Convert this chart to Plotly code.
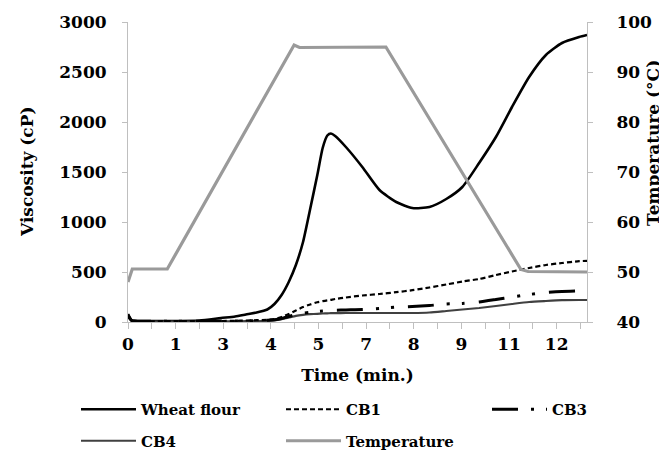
import plotly.graph_objects as go

# ---- data ----
time_min = [0, 0.1, 0.3, 1.0, 2.0, 2.6, 3.0, 3.3, 3.6, 3.9, 4.1, 4.3, 4.5, 4.7, 4.9, 5.1,
            5.3, 5.45, 5.58, 5.68, 5.8, 6.1, 6.56, 7.04, 7.51, 7.96, 8.44, 8.91, 9.36, 9.83,
            10.3, 10.75, 11.23, 11.7, 12.15, 12.63, 12.85]
wheat_flour = [80, 20, 10, 10, 15, 40, 55, 75, 95, 125, 180, 270, 400, 570, 800, 1130,
               1470, 1740, 1865, 1885, 1860, 1750, 1550, 1320, 1200, 1140, 1150, 1230, 1350, 1590,
               1850, 2150, 2450, 2670, 2790, 2850, 2870]
cb1 = [60, 15, 8, 8, 8, 10, 12, 15, 18, 22, 30, 50, 80, 115, 150, 175,
       198, 208, 216, 222, 230, 245, 265, 280, 298, 318, 345, 375, 405, 430,
       470, 505, 540, 570, 590, 608, 612]
cb3 = [70, 15, 8, 8, 8, 10, 10, 12, 14, 17, 22, 35, 55, 75, 88, 97,
       105, 110, 113, 115, 118, 121, 125, 135, 148, 155, 165, 180, 185, 200,
       225, 250, 275, 295, 305, 310, 312]
cb4 = [50, 10, 5, 5, 5, 6, 7, 8, 9, 11, 16, 28, 45, 62, 72, 78,
       82, 85, 87, 88, 89, 90, 90, 90, 90, 90, 95, 110, 125, 140,
       160, 180, 200, 210, 218, 220, 220]

temp_time = [0, 0.12, 1.1, 4.65, 4.8, 7.22, 11.0, 11.2, 12.85]
temperature = [48, 50.6, 50.6, 95.4, 94.9, 95.0, 50.5, 50.1, 50.0]

tick_labels = ["0", "1", "3", "4", "5", "7", "8", "9", "11", "12"]
label_step = 4 / 3      # minutes between labelled ticks
minor_step = 2 / 3      # minutes between tick marks

FONT = "DejaVu Serif"
AX = "#bfbfbf"

# figure is drawn 8px in from the page corner (body margin)
W, H = 659, 455
ML, MR, MT, MB = 120, 80, 14, 141
PW, PH = W - ML - MR, H - MT - MB
PB = H - MB  # plot bottom in figure px


def px_x(x):
    return (x - ML) / PW


def px_y(y):
    return (PB - y) / PH


fig = go.Figure()
fig.add_trace(go.Scatter(x=time_min, y=wheat_flour, name="Wheat flour", mode="lines",
                         line=dict(color="#000000", width=2.6, shape="spline", smoothing=0.6),
                         legend="legend", legendgroup="a"))
fig.add_trace(go.Scatter(x=time_min, y=cb4, name="CB4", mode="lines",
                         line=dict(color="#404040", width=2.2, shape="spline", smoothing=0.6),
                         legend="legend", legendgroup="b"))
fig.add_trace(go.Scatter(x=time_min, y=cb1, name="CB1", mode="lines",
                         line=dict(color="#000000", width=2.2, dash="5px,3px", shape="spline", smoothing=0.6),
                         legend="legend2", legendgroup="c"))
fig.add_trace(go.Scatter(x=temp_time, y=temperature, name="Temperature", mode="lines",
                         line=dict(color="#9a9a9a", width=3.2),
                         yaxis="y2", legend="legend2", legendgroup="d"))
fig.add_trace(go.Scatter(x=time_min, y=cb3, name="CB3", mode="lines",
                         line=dict(color="#000000", width=3, dash="26px,13px,3px,12px,3px,14px",
                                   shape="spline", smoothing=0.6),
                         legend="legend3", legendgroup="e"))

tickvals = [i * label_step for i in range(len(tick_labels))]

leg_top = 1 - 385 / H
leg_common = dict(xanchor="left", yanchor="top", orientation="v", tracegroupgap=9, itemwidth=55,
                  xref="container", yref="container", y=leg_top,
                  font=dict(family=FONT, size=15, weight="bold"), bgcolor="rgba(0,0,0,0)")

title_font = dict(family=FONT, size=17, weight="bold")

fig.update_layout(
    width=W, height=H,
    margin=dict(l=ML, r=MR, t=MT, b=MB, autoexpand=False),
    paper_bgcolor="white", plot_bgcolor="white",
    font=dict(family=FONT, size=17, color="#000000", weight="bold"),
    showlegend=True,
    xaxis=dict(range=[0, 12.85], tickvals=tickvals, ticktext=tick_labels, automargin=False,
               showgrid=False, zeroline=False, showline=True, linecolor=AX, linewidth=1,
               ticks="outside", ticklen=6, tickcolor=AX, ticklabelstandoff=1,
               minor=dict(dtick=minor_step, tick0=0, ticks="outside", ticklen=6, tickcolor=AX),
               tickfont=dict(family=FONT, size=17, weight="bold"),
               title=dict(text="Time (min.)", font=title_font, standoff=15)),
    yaxis=dict(range=[0, 3000], dtick=500, showgrid=False, zeroline=False, automargin=False,
               showline=True, linecolor=AX, linewidth=1, ticks="outside", ticklen=5, tickcolor=AX,
               ticklabelstandoff=12,
               tickfont=dict(family=FONT, size=17, weight="bold")),
    yaxis2=dict(range=[40, 100], dtick=10, overlaying="y", side="right", showgrid=False,
                zeroline=False, showline=True, linecolor=AX, linewidth=1, ticks="outside",
                automargin=False, ticklen=5, tickcolor=AX, ticklabelstandoff=20,
                tickfont=dict(family=FONT, size=17, weight="bold")),
    legend=dict(x=68 / W, **leg_common),
    legend2=dict(x=273 / W, **leg_common),
    legend3=dict(x=479 / W, **leg_common),
    annotations=[
        dict(text="Viscosity (cP)", textangle=-90, xref="paper", yref="paper",
             x=px_x(19), y=0.5, xanchor="center", yanchor="middle",
             showarrow=False, font=title_font),
        dict(text="Temperature (°C)", textangle=-90, xref="paper", yref="paper",
             x=px_x(645), y=px_y(135), xanchor="center", yanchor="middle",
             showarrow=False, font=title_font),
    ],
)

fig.write_html("out.html")
